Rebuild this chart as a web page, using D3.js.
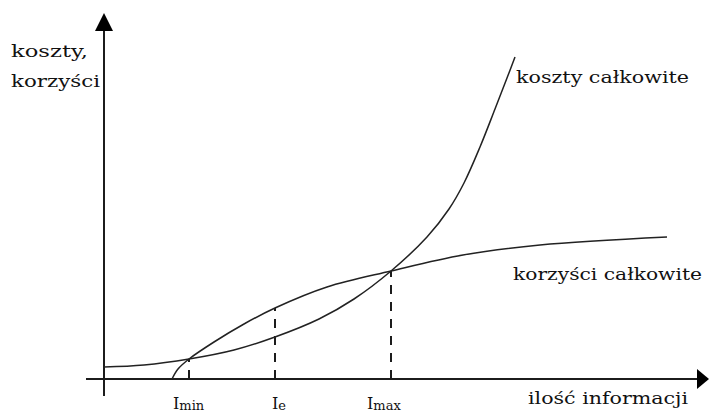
<!DOCTYPE html>
<html>
<head>
<meta charset="utf-8">
<script src="https://cdn.jsdelivr.net/npm/d3@7"></script>
<style>
  html, body { margin: 0; padding: 0; background: #fff; }
  svg { display: block; }
  text { font-family: "DejaVu Serif", "Liberation Serif", serif; fill: #111; }
</style>
</head>
<body>
<div id="chart"></div>
<script>
// ---- data (x = amount of information, y = value) ----
const costX    = [0, 40, 85, 130, 171, 215, 250, 287, 323, 345, 360, 376, 391, 403, 411];
const costY    = [12, 14, 20, 29, 42, 60, 80, 108, 142, 170, 196, 232, 270, 301, 322];
const benefitX = [68, 74, 85, 110, 140, 171, 223, 287, 359, 436, 563];
const benefitY = [0, 10, 20, 37, 55, 71, 92, 108, 124, 134, 142];
const markNames  = ["I", "I", "I"];
const markSubs   = ["min", "e", "max"];
const markX      = [85, 171, 287];
const markTop    = [20, 71, 108];
const axisLabelY = ["koszty,", "korzyści"];
const axisLabelX = "ilość informacji";
const seriesLabels = ["koszty całkowite", "korzyści całkowite"];

const W = 709, H = 412;
const svg = d3.select("#chart").append("svg").attr("width", W).attr("height", H);

const x = d3.scaleLinear().domain([0, 600]).range([104, 704]);
const y = d3.scaleLinear().domain([0, 350]).range([379, 29]);

const ink = "#1c1c1c";

// axes
svg.append("line").attr("x1", 86).attr("x2", 700).attr("y1", y(0)).attr("y2", y(0))
  .attr("stroke", ink).attr("stroke-width", 2);
svg.append("line").attr("x1", x(0)).attr("x2", x(0)).attr("y1", 396).attr("y2", 24)
  .attr("stroke", ink).attr("stroke-width", 2);
// arrow heads
svg.append("path").attr("d", `M${x(0)},13 L${x(0)-9},31 L${x(0)+9},31 Z`).attr("fill", "#000");
svg.append("path").attr("d", `M709,${y(0)} L697,${y(0)-10} L697,${y(0)+10} Z`).attr("fill", "#000");

// dashed guide lines
markX.forEach((mx, i) => {
  svg.append("line")
    .attr("x1", x(mx)).attr("x2", x(mx))
    .attr("y1", y(0)).attr("y2", y(markTop[i]))
    .attr("stroke", ink).attr("stroke-width", 2)
    .attr("stroke-dasharray", "9,8");
});

// curves
const line = d3.line().x(d => x(d[0])).y(d => y(d[1])).curve(d3.curveCatmullRom.alpha(0.5));
const costData = costX.map((v, i) => [v, costY[i]]);
const benData = benefitX.map((v, i) => [v, benefitY[i]]);
svg.append("path").attr("d", line(costData)).attr("fill", "none")
  .attr("stroke", "#222").attr("stroke-width", 1.5);
svg.append("path").attr("d", line(benData)).attr("fill", "none")
  .attr("stroke", "#222").attr("stroke-width", 1.5);

// text helper
function label(t, px, py, width, size) {
  const el = svg.append("text").attr("x", px).attr("y", py)
    .attr("font-size", size).text(t);
  if (width) el.attr("textLength", width).attr("lengthAdjust", "spacingAndGlyphs");
  return el;
}

label(axisLabelY[0], 11, 57, 77, 17);
label(axisLabelY[1], 11, 87, 89, 17);
label(seriesLabels[0], 516, 83, 173, 17);
label(seriesLabels[1], 513, 280, 189, 17);
label(axisLabelX, 528, 404, 160, 17);

// I markers with subscripts
const markStart = [173, 272, 367];
markNames.forEach((n, i) => {
  const t = svg.append("text").attr("x", markStart[i]).attr("y", 409).attr("font-size", 16);
  t.append("tspan").text(n);
  t.append("tspan").attr("dy", 1).attr("font-size", 13).text(markSubs[i]);
});
</script>
</body>
</html>
